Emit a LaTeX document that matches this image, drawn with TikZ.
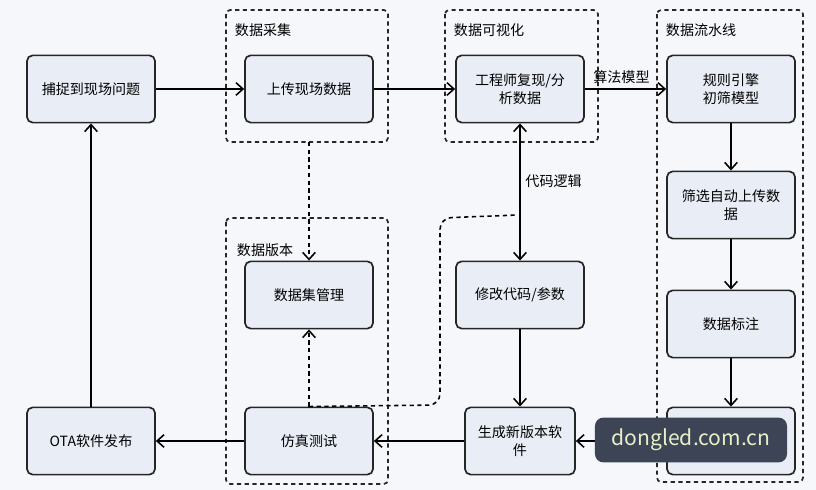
\documentclass[tikz,border=0pt]{standalone}
\usepackage{fontspec}
\setmainfont{Noto Sans CJK SC}
\usetikzlibrary{arrows.meta}
\definecolor{bgc}{HTML}{F5F7FA}
\definecolor{boxc}{HTML}{E9EEF6}
\definecolor{wmc}{HTML}{3D4455}
\definecolor{wmt}{HTML}{E8F0C8}
\tikzset{
  stage/.style = {draw=black!85, line width=1.2pt, rounded corners=4pt, fill=boxc,
                 minimum width=3.2cm, minimum height=1.68cm, align=center, font=\fontsize{10}{13}\selectfont},
  group/.style = {draw=black!85, line width=1.2pt, dash pattern=on 3pt off 2.5pt, rounded corners=3pt},
  glabel/.style = {anchor=west, font=\fontsize{10}{12}\selectfont},
  flow/.style = {-{Straight Barb[length=5pt,width=9pt]}, line width=1.1pt},
  dflow/.style = {flow, dash pattern=on 3pt off 2.5pt}
}
\begin{document}
\begin{tikzpicture}[x=0.025cm, y=-0.025cm]
    \fill[bgc] (0,0) rectangle (816,490);
    \useasboundingbox (0,0) rectangle (816,490);

    % groups
    \draw[group] (226,10) rectangle (388,142);
    \node[glabel] at (230,30) {数据采集};
    \draw[group] (445,10) rectangle (598,142);
    \node[glabel] at (449,30) {数据可视化};
    \draw[group] (657,10) rectangle (803,482);
    \node[glabel] at (661,30) {数据流水线};
    \draw[group] (226,218) rectangle (388,484);
    \node[glabel] at (232,250) {数据版本};

    % stages
    \node[stage] (capture) at (91,89) {捕捉到现场问题};
    \node[stage] (upload)  at (309,89) {上传现场数据};
    \node[stage] (analyse) at (520,89) {工程师复现/分\\析数据};
    \node[stage] (rules)   at (731,89) {规则引擎\\初筛模型};
    \node[stage] (select)  at (731,205) {筛选自动上传数\\据};
    \node[stage] (label)   at (731,324) {数据标注};
    \node[stage] (train)   at (731,441) {};
    \node[stage] (modify)  at (520,295) {修改代码/参数};
    \node[stage, minimum width=2.75cm] (build) at (520,441) {生成新版本软\\件};
    \node[stage] (simul)   at (309,441) {仿真测试};
    \node[stage] (dataset) at (309,295) {数据集管理};
    \node[stage] (ota)     at (91,441) {OTA软件发布};

    % connectors
    \draw[flow] (capture) -- (upload);
    \draw[flow] (upload) -- (analyse);
    \draw[flow] (analyse) -- node[above, pos=0.45, font=\fontsize{10}{12}\selectfont] {算法模型} (rules);
    \draw[flow] (rules) -- (select);
    \draw[flow] (select) -- (label);
    \draw[flow] (label) -- (train);
    \draw[flow] (train) -- (build);
    \draw[flow] (build) -- (simul);
    \draw[flow] (simul) -- (ota);
    \draw[flow] (ota) -- (capture);
    \draw[flow] (modify) -- (build);
    \draw[flow, {Straight Barb[length=5pt,width=9pt]}-{Straight Barb[length=5pt,width=9pt]}]
      (analyse) -- node[right, pos=0.42, font=\fontsize{10}{12}\selectfont] {代码逻辑} (modify);
    \coordinate (gbot) at (309,142);
    \draw[dflow] (gbot) -- (dataset);
    \draw[dflow] (simul) -- (dataset);
    \coordinate (join) at (518,215);
    \draw[line width=1.1pt, dash pattern=on 3pt off 2.5pt, rounded corners=8pt]
      (simul.north) -- (440,405) -- (440,218) -- (join);

    % watermark
    \node[fill=wmc, rounded corners=6pt, minimum width=4.8cm, minimum height=1.12cm,
          text=wmt, font=\fontsize{15}{16}\selectfont] (mark) at (691,440) {dongled.com.cn};
\end{tikzpicture}
\end{document}
